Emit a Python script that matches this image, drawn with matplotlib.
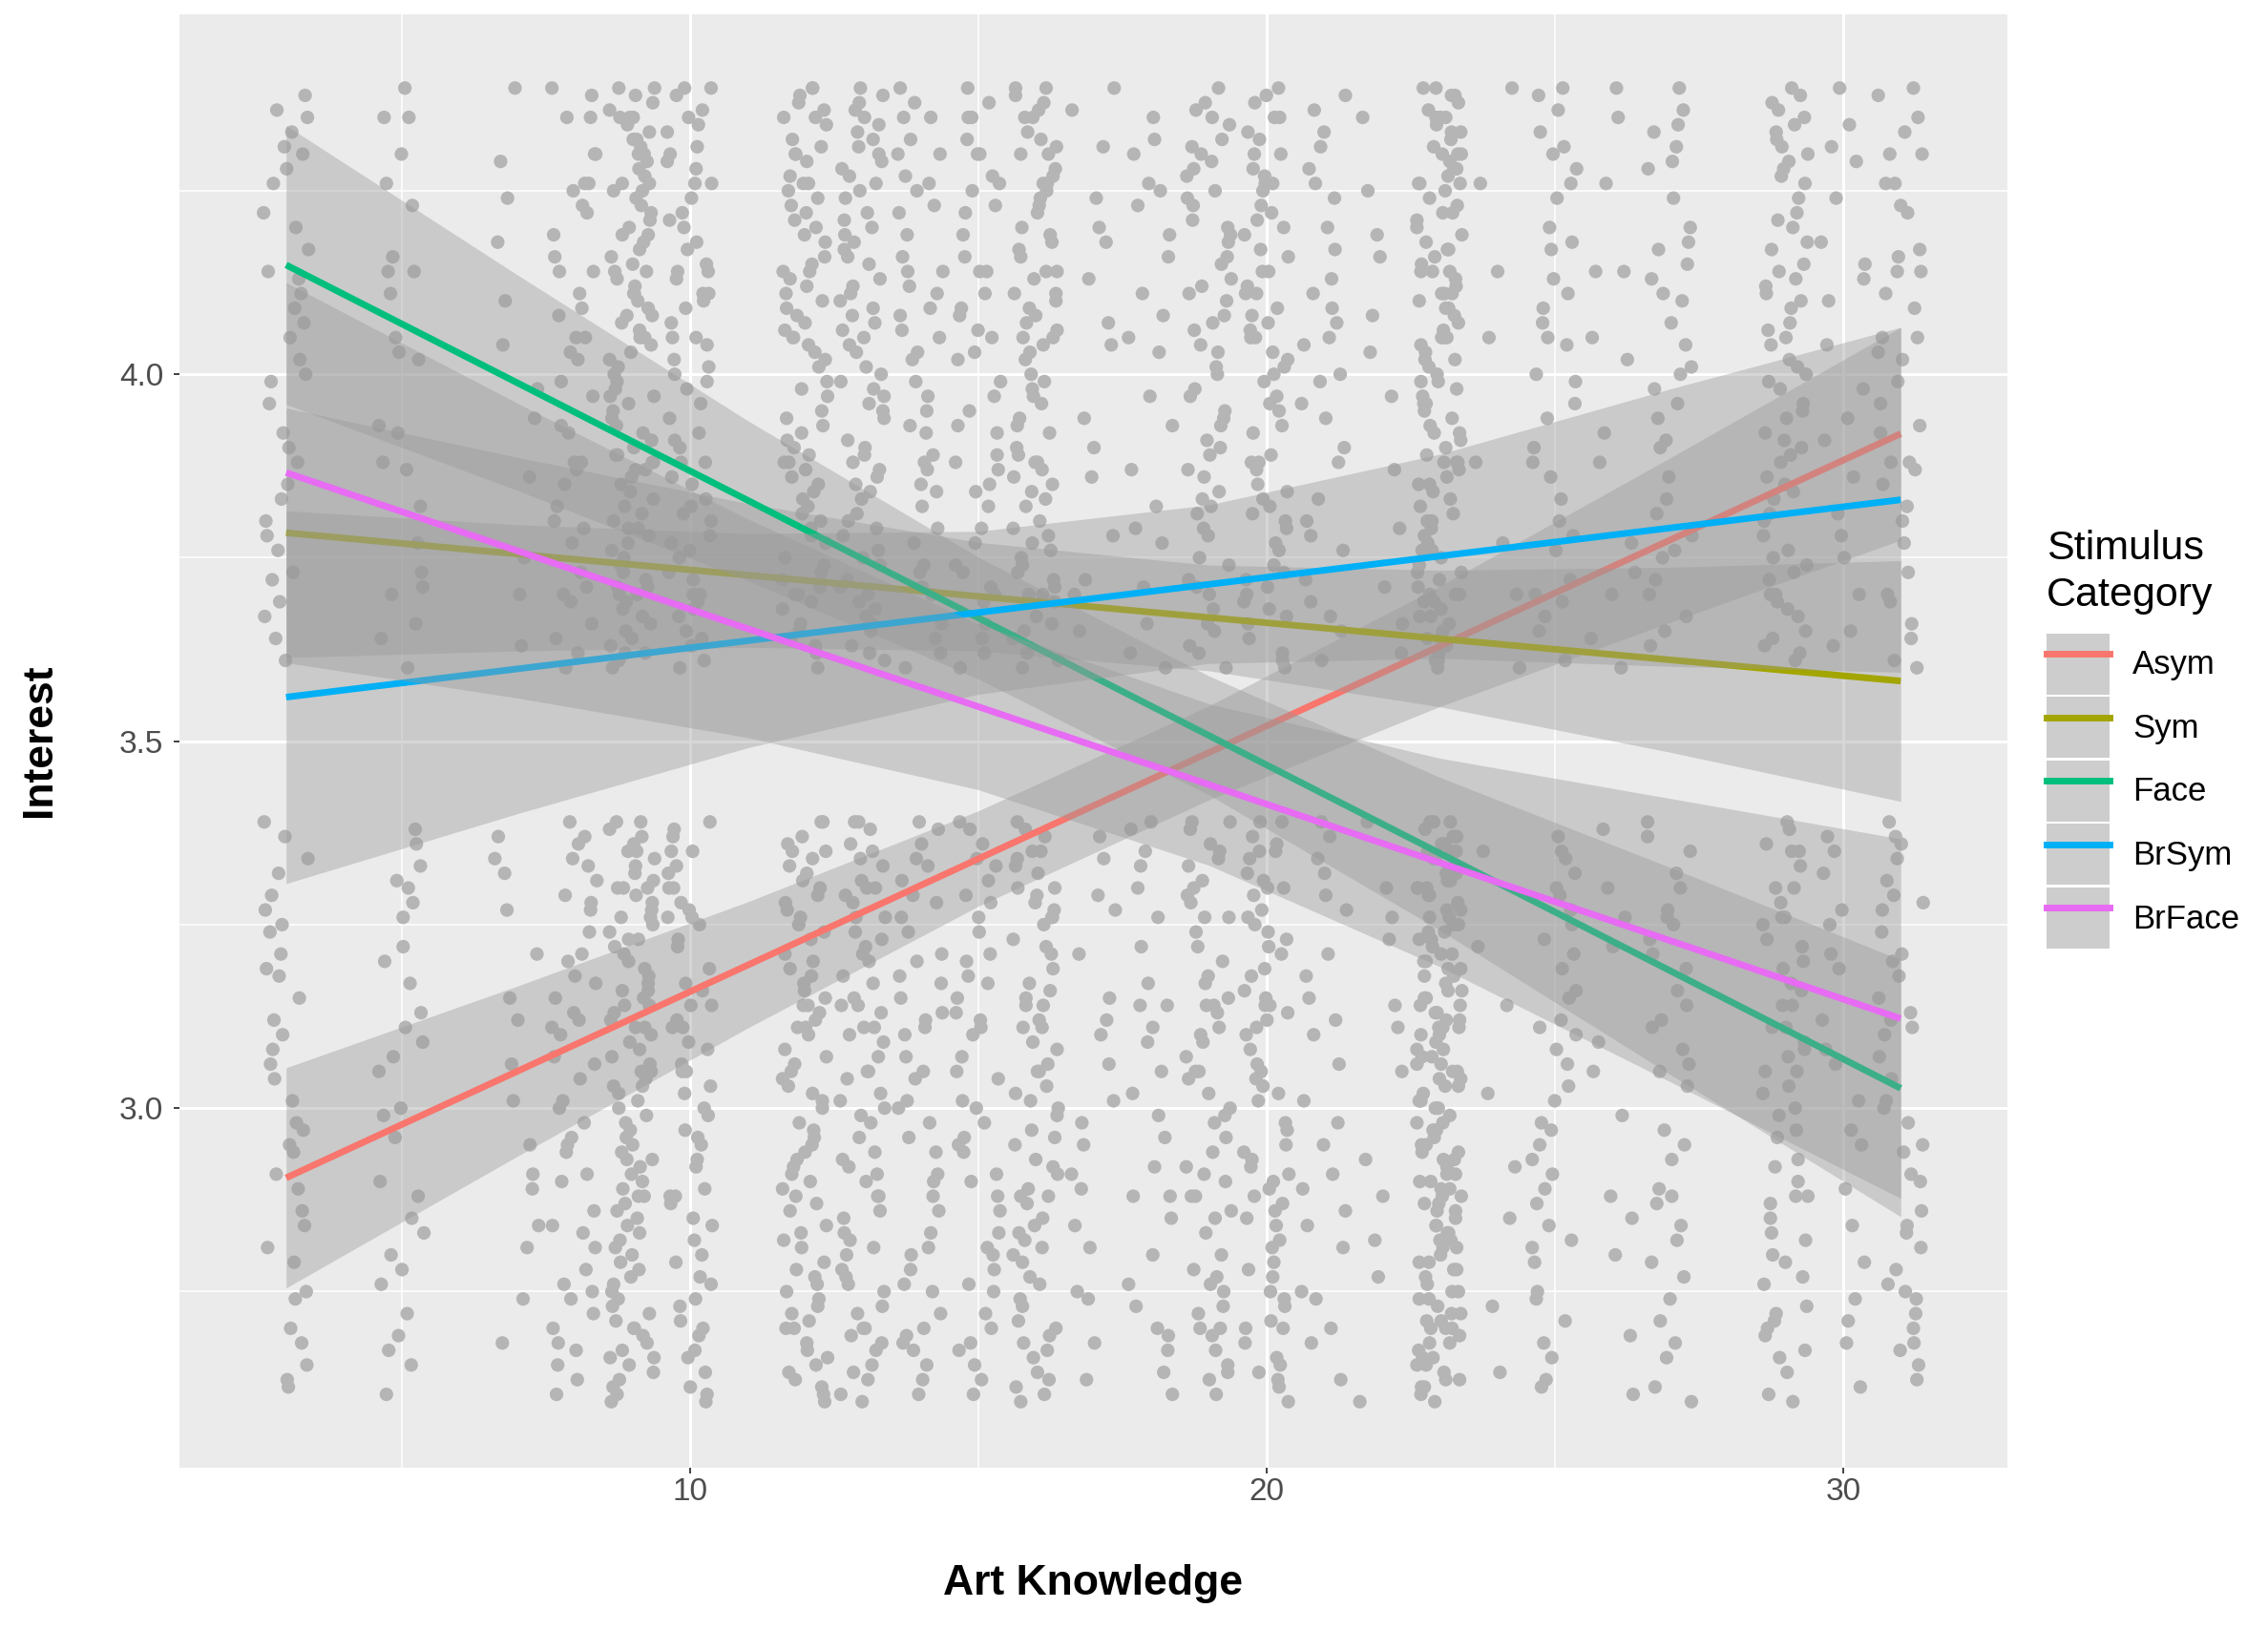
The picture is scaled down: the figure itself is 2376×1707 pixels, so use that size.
import matplotlib
matplotlib.use("Agg")
from matplotlib import pyplot as plt
from matplotlib.lines import Line2D
from matplotlib.patches import Patch
from matplotlib.legend_handler import HandlerTuple

plt.rcParams["font.family"] = ["Liberation Sans", "DejaVu Sans"]

# categories and ggplot default hue colours
categories = ["Asym", "Sym", "Face", "BrSym", "BrFace"]
colors = ["#F8766D", "#A3A500", "#00BF7D", "#00B0F6", "#E76BF3"]

# fitted lines (value at x=3 and at x=31)
fit_x = [3, 31]
fit_start = [2.905, 3.784, 4.149, 3.560, 3.866]
fit_end = [3.919, 3.582, 3.027, 3.829, 3.122]

# confidence bands
band_x = [3, 7, 11, 15, 19, 23, 27, 31]
band_lower = [
    [2.755, 2.934, 3.109, 3.275, 3.420, 3.547, 3.662, 3.774],
    [3.614, 3.623, 3.628, 3.623, 3.596, 3.547, 3.485, 3.418],
    [3.959, 3.842, 3.719, 3.585, 3.427, 3.243, 3.046, 2.852],
    [3.306, 3.401, 3.491, 3.564, 3.606, 3.613, 3.602, 3.594],
    [3.607, 3.559, 3.505, 3.434, 3.331, 3.193, 3.036, 2.877],
]
band_upper = [
    [3.055, 3.166, 3.281, 3.405, 3.548, 3.711, 3.886, 4.064],
    [3.954, 3.887, 3.824, 3.771, 3.740, 3.733, 3.737, 3.746],
    [4.339, 4.136, 3.937, 3.751, 3.589, 3.451, 3.328, 3.202],
    [3.814, 3.795, 3.783, 3.786, 3.822, 3.891, 3.980, 4.064],
    [4.125, 3.961, 3.803, 3.660, 3.551, 3.477, 3.422, 3.367],
]

# raw ratings: art knowledge score and how many ratings of 4 and of 3 it got
knowledge = [3, 5, 7, 8, 9, 10, 12, 13, 14, 15, 16, 17, 18,
             19, 20, 21, 22, 23, 24, 25, 26, 27, 29, 30, 31]
n_interest_4 = [35, 25, 12, 42, 100, 65, 80, 70, 45, 45, 78, 16, 22,
                58, 68, 30, 12, 115, 8, 35, 14, 35, 66, 20, 38]
n_interest_3 = [35, 30, 16, 45, 95, 60, 78, 68, 45, 45, 70, 20, 28,
                58, 68, 25, 12, 145, 8, 38, 12, 35, 56, 20, 40]

# fixed jitter offsets (geom_jitter width = height = 0.4)
jitter_dx = [0.12, -0.31, 0.37, -0.05, 0.24, -0.18, -0.39, 0.03, 0.29, -0.26,
             0.15, -0.11, 0.33, -0.35, 0.07, -0.22, 0.20, -0.01, 0.39, -0.29,
             0.10, -0.14, 0.26, -0.37, 0.01, 0.34, -0.08, 0.17, -0.24, 0.31,
             -0.16, 0.05, -0.33, 0.22, -0.03, 0.36, -0.20, 0.13, -0.28, 0.08,
             -0.12, 0.28, -0.38, 0.18, -0.06, 0.35, -0.25, 0.02, 0.23, -0.17,
             0.38, -0.32, 0.11, -0.09, 0.27, -0.21, 0.06, -0.36, 0.32, -0.02,
             0.16, -0.27, 0.21, -0.13, 0.04, -0.34, 0.30, -0.07, 0.14, -0.23,
             0.37, -0.30, 0.09, -0.15, 0.25, -0.04, 0.19, -0.39, 0.00, 0.33,
             -0.19, 0.11, -0.26, 0.28, -0.10, 0.06, -0.32, 0.22, -0.17, 0.35,
             -0.23, 0.13, -0.06, 0.30, -0.35, 0.03, 0.18]
jitter_dy = [-0.27, 0.14, 0.35, -0.08, 0.02, -0.36, 0.22, -0.15, 0.30, -0.01,
             0.09, -0.31, 0.38, -0.20, 0.05, 0.26, -0.12, -0.39, 0.17, -0.04,
             0.33, -0.24, 0.11, -0.33, 0.28, 0.00, -0.17, 0.20, -0.28, 0.07,
             0.36, -0.10, -0.22, 0.13, 0.31, -0.35, 0.04, -0.06, 0.24, -0.30,
             0.18, -0.14, 0.39, -0.02, 0.10, -0.25, 0.29, -0.37, 0.15, -0.09,
             0.34, -0.19, 0.01, 0.21, -0.32, 0.12, -0.05, 0.27, -0.16, 0.37,
             -0.26, 0.06, -0.11, 0.32, -0.38, 0.19, -0.03, 0.25, -0.21, 0.08,
             -0.29, 0.35, -0.13, 0.16, -0.34, 0.03, 0.23, -0.07, 0.30, -0.18,
             0.11, -0.40, 0.26, -0.23, 0.05, 0.39, -0.12, 0.14, -0.30]

# build the jittered point cloud
pts_x, pts_y = [], []
i = 0
for k, n4, n3 in zip(knowledge, n_interest_4, n_interest_3):
    for level, n in ((4, n4), (3, n3)):
        for _ in range(n):
            pts_x.append(k + jitter_dx[i % len(jitter_dx)])
            pts_y.append(level + jitter_dy[i % len(jitter_dy)])
            i += 1

fig = plt.figure(figsize=(23.76, 17.07), dpi=100)
ax = fig.add_axes([0.0791, 0.099, 0.806, 0.892])
ax.set_facecolor("#EBEBEB")

ax.scatter(pts_x, pts_y, s=105, color="#B5B5B5", edgecolors="none", zorder=2)

# ribbon then line per group, like geom_smooth
for j, col in enumerate(colors):
    ax.fill_between(band_x, band_lower[j], band_upper[j], color="#999999",
                    alpha=0.4, lw=0, zorder=3 + 2 * j)
    ax.plot(fit_x, [fit_start[j], fit_end[j]], color=col, lw=5,
            solid_capstyle="butt", zorder=4 + 2 * j)

ax.set_xlim(1.15, 32.85)
ax.set_ylim(2.51, 4.49)
ax.set_xticks([10, 20, 30])
ax.set_xticks([5, 15, 25], minor=True)
ax.set_yticks([3.0, 3.5, 4.0])
ax.set_yticklabels(["3.0", "3.5", "4.0"])
ax.set_yticks([2.75, 3.25, 3.75, 4.25], minor=True)
ax.grid(which="major", color="white", lw=2.2)
ax.grid(which="minor", color="white", lw=1.1)
ax.set_axisbelow(True)
for s in ax.spines.values():
    s.set_visible(False)
ax.tick_params(which="major", length=4, width=1.3, color="#333333",
               labelcolor="#4D4D4D", labelsize=24)
ax.tick_params(axis="y", pad=8)
ax.tick_params(axis="x", pad=3)
ax.tick_params(which="minor", length=0)

fig.text(0.482, 0.028, "Art Knowledge", fontsize=32, fontweight="bold",
         ha="center", va="center")
fig.text(0.0173, 0.5454, "Interest", fontsize=32, fontweight="bold",
         rotation=90, ha="center", va="center")

handles = [(Patch(facecolor="#CDCDCD", edgecolor="none"),
            Line2D([], [], color=c, lw=5)) for c in colors]
leg = fig.legend(handles, categories,
                 handler_map={tuple: HandlerTuple(ndivide=1, pad=0)},
                 title="Stimulus\nCategory", loc="upper left",
                 bbox_to_anchor=(0.9024, 1 - 555 / 1707), frameon=False,
                 fontsize=25, title_fontsize=31, handlelength=1.9,
                 handleheight=2.45, handletextpad=0.7, labelspacing=0.08,
                 borderpad=0, borderaxespad=0, alignment="left")
leg.get_title().set_multialignment("left")
leg.get_title().set_linespacing(1.3)
# a bit more room between the title and the keys
leg._legend_box.sep = 14

fig.savefig("out.png", dpi=100)
